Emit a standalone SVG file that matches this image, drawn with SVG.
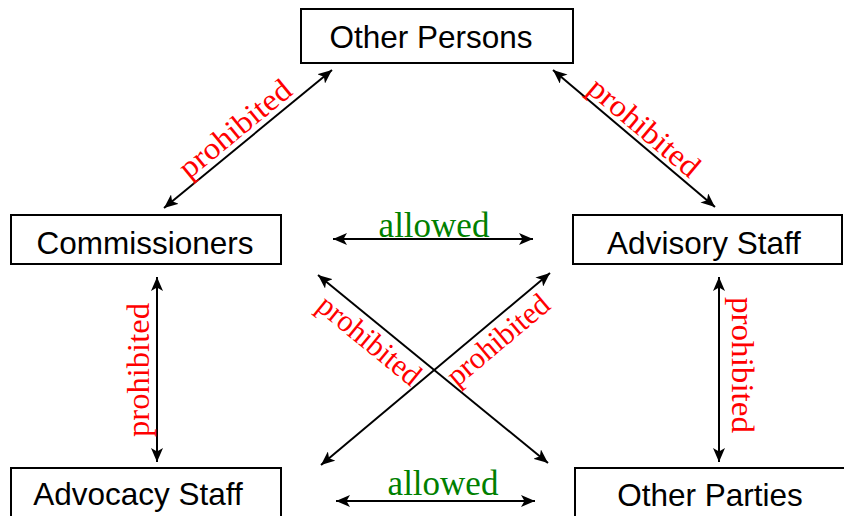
<svg xmlns="http://www.w3.org/2000/svg" width="844" height="516" viewBox="0 0 844 516">
<style>
.box{fill:#fff;stroke:#000;stroke-width:2}
.lbl{font-family:"Liberation Sans",Arial,sans-serif;font-size:31.5px;fill:#000;text-anchor:middle}
.con{stroke:#000;stroke-width:2;fill:none;marker-start:url(#ah);marker-end:url(#ah)}
.pro{font-family:"Liberation Serif","Times New Roman",serif;font-size:31px;fill:#ff0000;text-anchor:middle}
.ok{font-family:"Liberation Serif","Times New Roman",serif;font-size:35px;fill:#008000;text-anchor:middle}
</style>
<defs>
<marker id="ah" markerUnits="userSpaceOnUse" markerWidth="14" markerHeight="12" refX="14" refY="6" orient="auto-start-reverse">
<path d="M0,0 L14,6 L0,12 L3.5,6 z" fill="#000"/>
</marker>
</defs>
<rect width="844" height="516" fill="#fff"/>
<g id="connectors">
<line class="con" x1="164" y1="208" x2="332" y2="70"/>
<line class="con" x1="553" y1="70" x2="715" y2="207"/>
<line class="con" x1="333" y1="239" x2="533" y2="239"/>
<line class="con" x1="157" y1="277" x2="157" y2="462"/>
<line class="con" x1="719" y1="277" x2="719" y2="462"/>
<line class="con" x1="318" y1="275" x2="548" y2="463"/>
<line class="con" x1="321" y1="465" x2="550" y2="273"/>
<line class="con" x1="336" y1="501" x2="535" y2="501"/>
<text class="pro" transform="translate(245.2,141.3) rotate(-39.4)" x="0" y="-6" textLength="136" lengthAdjust="spacingAndGlyphs">prohibited</text>
<text class="pro" transform="translate(634.4,138.9) rotate(40.2)" x="0" y="-5" textLength="136" lengthAdjust="spacingAndGlyphs">prohibited</text>
<text class="pro" transform="translate(380.7,326.3) rotate(39.3)" x="0" y="28" textLength="124" lengthAdjust="spacingAndGlyphs">prohibited</text>
<text class="pro" transform="translate(486.5,326.1) rotate(-40)" x="0" y="28" textLength="124" lengthAdjust="spacingAndGlyphs">prohibited</text>
<text class="pro" transform="translate(149,370) rotate(-90)" x="0" y="0" textLength="134" lengthAdjust="spacingAndGlyphs">prohibited</text>
<text class="pro" transform="translate(732,365) rotate(90)" x="0" y="0" textLength="136" lengthAdjust="spacingAndGlyphs">prohibited</text>
<text class="ok" x="434" y="237">allowed</text>
<text class="ok" x="443" y="495">allowed</text>
</g>
<g id="other-persons">
<rect class="box" x="301" y="9" width="272" height="54"/>
<text class="lbl" x="431" y="48">Other Persons</text>
</g>
<g id="commissioners">
<rect class="box" x="11" y="215" width="270" height="49"/>
<text class="lbl" x="145" y="254">Commissioners</text>
</g>
<g id="advisory-staff">
<rect class="box" x="573" y="215" width="269" height="49"/>
<text class="lbl" x="704" y="254">Advisory Staff</text>
</g>
<g id="advocacy-staff">
<rect class="box" x="11" y="468" width="270" height="60"/>
<text class="lbl" x="138" y="505">Advocacy Staff</text>
</g>
<g id="other-parties">
<rect class="box" x="575" y="468" width="280" height="60"/>
<text class="lbl" x="710" y="506">Other Parties</text>
</g>
</svg>
